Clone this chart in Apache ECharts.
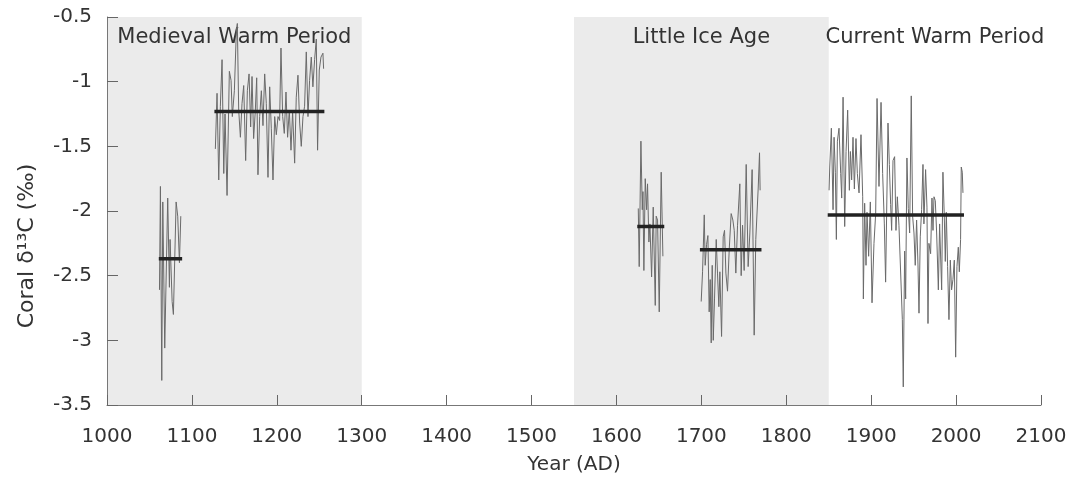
<!DOCTYPE html>
<html>
<head>
<meta charset="utf-8">
<title>Coral d13C</title>
<script src="https://cdn.jsdelivr.net/npm/echarts/dist/echarts.min.js"></script>
<style>
  html, body { margin: 0; padding: 0; background: #ffffff; }
  #chart { width: 1085px; height: 479px; }
</style>
</head>
<body>
<div id="chart"></div>
<script>
// climate periods (shaded boxes + labels)
var periodNames = ["Medieval Warm Period", "Little Ice Age", "Current Warm Period"];
var periodStart = [1000, 1550, 1850];
var periodEnd = [1300, 1850, 2100];
var periodShaded = [true, true, false];

// coral records
var seg1Years = [1061.8, 1062.9, 1064.5, 1065.7, 1068.0, 1071.5, 1073.5, 1074.3, 1076.7, 1078.2, 1081.4, 1083.3, 1085.3, 1086.9];
var seg1Values = [-2.61, -1.81, -3.31, -1.93, -3.06, -1.90, -2.59, -2.22, -2.70, -2.80, -1.93, -2.04, -2.40, -2.04];

var seg2Years = [1127.6, 1129.6, 1131.6, 1133.5, 1135.5, 1137.5, 1139.0, 1141.4, 1144.1, 1146.1,
  1147.6, 1150.0, 1152.4, 1153.5, 1155.1, 1157.1, 1159.0, 1161.0, 1163.3, 1165.3,
  1167.3, 1169.2, 1170.8, 1172.7, 1174.7, 1176.3, 1177.8, 1179.8, 1181.8, 1183.7,
  1185.7, 1187.6, 1189.6, 1191.6, 1193.5, 1195.5, 1197.5, 1199.4, 1201.4, 1203.3,
  1204.9, 1206.9, 1208.8, 1210.8, 1212.7, 1214.7, 1216.7, 1218.6, 1221.0, 1222.9,
  1224.9, 1226.9, 1228.8, 1230.8, 1232.7, 1234.7, 1236.7, 1238.6, 1240.6, 1242.5,
  1244.5, 1246.5, 1248.0, 1250.0, 1252.0, 1254.3, 1255.1];
var seg2Values = [-1.52, -1.09, -1.76, -1.19, -0.83, -1.71, -1.25, -1.88, -0.92, -0.99,
  -1.27, -1.07, -0.60, -0.55, -1.22, -1.43, -1.17, -1.03, -1.61, -1.07,
  -0.94, -1.35, -0.96, -1.44, -1.22, -0.97, -1.72, -1.27, -1.07, -1.34,
  -0.94, -1.17, -1.74, -1.04, -1.36, -1.76, -1.27, -1.41, -1.27, -1.30,
  -0.74, -1.27, -1.40, -1.08, -1.43, -1.22, -1.53, -1.23, -1.63, -1.12,
  -0.95, -1.32, -1.50, -1.27, -1.19, -0.77, -1.27, -0.99, -0.81, -1.04,
  -0.83, -0.67, -1.53, -0.91, -0.81, -0.78, -0.90];

var seg3Years = [1625.7, 1626.8, 1628.8, 1630.4, 1631.2, 1632.3, 1633.9, 1635.5, 1636.6, 1638.2,
  1639.4, 1641.4, 1643.3, 1645.7, 1646.8, 1648.4, 1650.4, 1652.7, 1654.7];
var seg3Values = [-1.98, -2.43, -1.46, -1.99, -1.85, -2.46, -1.75, -1.99, -1.79, -2.24,
  -2.10, -2.51, -1.97, -2.73, -2.04, -2.07, -2.78, -1.70, -2.35];

var seg4Years = [1699.8, 1701.4, 1703.4, 1704.5, 1706.1, 1707.7, 1709.2, 1710.4, 1711.6, 1712.8,
  1714.0, 1715.5, 1717.5, 1719.0, 1720.6, 1721.8, 1723.8, 1725.7, 1727.3, 1728.9,
  1730.8, 1732.8, 1735.1, 1737.1, 1738.7, 1740.6, 1742.6, 1745.3, 1746.9, 1748.5,
  1750.4, 1752.8, 1755.1, 1757.1, 1759.8, 1762.2, 1764.1, 1766.9, 1768.5, 1769.2];
var seg4Values = [-2.70, -2.47, -2.03, -2.42, -2.26, -2.19, -2.78, -2.53, -3.02, -2.42,
  -3.00, -2.68, -2.22, -2.48, -2.74, -2.47, -2.97, -2.20, -2.15, -2.48,
  -2.62, -2.30, -2.02, -2.07, -2.15, -2.48, -2.11, -1.79, -2.50, -2.11,
  -2.46, -1.64, -2.43, -2.17, -1.68, -2.96, -2.22, -1.83, -1.55, -1.84];

var seg5Years = [1850.4, 1851.2, 1853.1, 1855.1, 1856.3, 1857.8, 1859.0, 1860.2, 1862.1, 1864.1,
  1865.3, 1866.9, 1868.8, 1870.4, 1872.3, 1874.3, 1875.5, 1877.0, 1878.6, 1880.2,
  1882.1, 1883.7, 1885.7, 1888.0, 1890.0, 1890.8, 1892.3, 1893.9, 1895.1, 1897.0,
  1899.0, 1901.0, 1903.3, 1905.3, 1906.9, 1909.2, 1911.6, 1913.5, 1915.5, 1917.0,
  1919.8, 1921.4, 1922.9, 1924.1, 1925.7, 1927.6, 1929.2, 1930.8, 1932.7, 1934.7,
  1936.7, 1937.8, 1939.4, 1940.6, 1942.1, 1943.7, 1945.3, 1947.2, 1948.8, 1950.4,
  1951.9, 1953.5, 1955.1, 1956.3, 1957.8, 1959.4, 1961.0, 1962.1, 1964.1, 1965.7,
  1966.9, 1968.0, 1970.0, 1971.6, 1972.8, 1974.0, 1975.5, 1977.1, 1979.1, 1980.6,
  1983.0, 1984.5, 1986.1, 1987.3, 1988.5, 1990.0, 1991.6, 1993.2, 1994.7, 1996.3,
  1997.9, 1999.5, 2001.0, 2002.6, 2003.8, 2005.3, 2006.1, 2007.3, 2008.1];
var seg5Values = [-1.84, -1.66, -1.36, -1.99, -1.43, -1.70, -2.22, -1.46, -1.36, -1.71,
  -1.90, -1.12, -2.12, -1.54, -1.22, -1.84, -1.54, -1.76, -1.43, -1.83,
  -1.44, -1.71, -1.86, -1.41, -1.89, -2.68, -1.94, -2.42, -2.01, -2.35,
  -1.93, -2.71, -2.25, -2.02, -1.13, -1.81, -1.16, -1.71, -2.10, -2.55,
  -1.32, -1.64, -1.95, -2.15, -1.61, -1.58, -2.15, -1.89, -2.11, -2.10,
  -2.84, -3.36, -2.31, -2.68, -1.59, -1.98, -2.17, -1.11, -2.04, -2.17,
  -2.42, -2.07, -2.41, -2.79, -2.20, -1.99, -1.64, -2.10, -1.68, -1.97,
  -2.87, -2.25, -2.33, -1.90, -2.15, -1.89, -1.92, -2.17, -2.61, -2.10,
  -2.61, -1.70, -2.04, -2.39, -2.01, -2.43, -2.84, -2.38, -2.61, -2.53,
  -2.38, -3.13, -2.43, -2.28, -2.47, -2.22, -1.66, -1.70, -1.86];

// mean value of each record
var meanStart = [1061.0, 1126.5, 1624.5, 1698.3, 1848.8];
var meanEnd = [1088.5, 1256.0, 1656.3, 1770.8, 2009.3];
var meanValue = [-2.37, -1.23, -2.12, -2.30, -2.03];

var xTicks = [1000, 2100, 100];
var yTicks = [-3.5, -0.5, 0.5];

var FONT = "DejaVu Sans";

function pairs(xs, ys) {
  return xs.map(function (x, i) { return [x, ys[i]]; });
}

var areaData = periodNames.map(function (name, i) {
  return [{
    name: name,
    xAxis: periodStart[i],
    itemStyle: { color: periodShaded[i] ? "#ebebeb" : "rgba(0,0,0,0)" }
  }, { xAxis: periodEnd[i] }];
});

var segments = [
  pairs(seg1Years, seg1Values),
  pairs(seg2Years, seg2Values),
  pairs(seg3Years, seg3Values),
  pairs(seg4Years, seg4Values),
  pairs(seg5Years, seg5Values)
];

var series = [];
// background boxes
series.push({
  type: "line",
  data: [],
  silent: true,
  z: 1,
  markArea: {
    silent: true,
    data: areaData,
    label: {
      show: true,
      position: "insideTop",
      distance: 10,
      color: "#333",
      fontFamily: FONT,
      fontSize: 21
    }
  }
});
segments.forEach(function (seg) {
  series.push({
    type: "line",
    data: seg,
    showSymbol: false,
    silent: true,
    lineStyle: { color: "#6a6a6a", width: 1 },
    z: 3
  });
});
meanValue.forEach(function (v, i) {
  series.push({
    type: "line",
    data: [[meanStart[i], v], [meanEnd[i], v]],
    showSymbol: false,
    silent: true,
    lineStyle: { color: "#222", width: 3.5 },
    z: 4
  });
});

var option = {
  animation: false,
  backgroundColor: "#ffffff",
  grid: { left: 107, right: 44, top: 17, bottom: 74, outerBoundsMode: "none", containLabel: false },
  xAxis: {
    type: "value",
    z: 10,
    min: xTicks[0],
    max: xTicks[1],
    interval: xTicks[2],
    name: "Year (AD)",
    nameLocation: "middle",
    nameGap: 50,
    nameTextStyle: { color: "#333", fontFamily: FONT, fontSize: 20 },
    axisLine: { show: true, lineStyle: { color: "#777" } },
    axisTick: { show: true, inside: true, length: 10, lineStyle: { color: "#666", width: 1 } },
    axisLabel: {
      color: "#333", fontFamily: FONT, fontSize: 20, margin: 22,
      formatter: function (v) { return String(v); }
    },
    splitLine: { show: false }
  },
  yAxis: {
    type: "value",
    z: 10,
    min: yTicks[0],
    max: yTicks[1],
    interval: yTicks[2],
    axisLine: { show: true, lineStyle: { color: "#777" } },
    axisTick: { show: true, inside: true, length: 11, lineStyle: { color: "#666", width: 1 } },
    axisLabel: { color: "#333", fontFamily: FONT, fontSize: 20, margin: 15 },
    splitLine: { show: false }
  },
  graphic: [{
    type: "text",
    x: 27,
    y: 246,
    rotation: Math.PI / 2,
    style: {
      text: "Coral δ¹³C (‰)",
      fill: "#333",
      font: "22px " + FONT,
      align: "center",
      verticalAlign: "middle"
    }
  }],
  series: series
};

var myChart = echarts.init(document.getElementById("chart"));
myChart.setOption(option);
</script>
</body>
</html>
